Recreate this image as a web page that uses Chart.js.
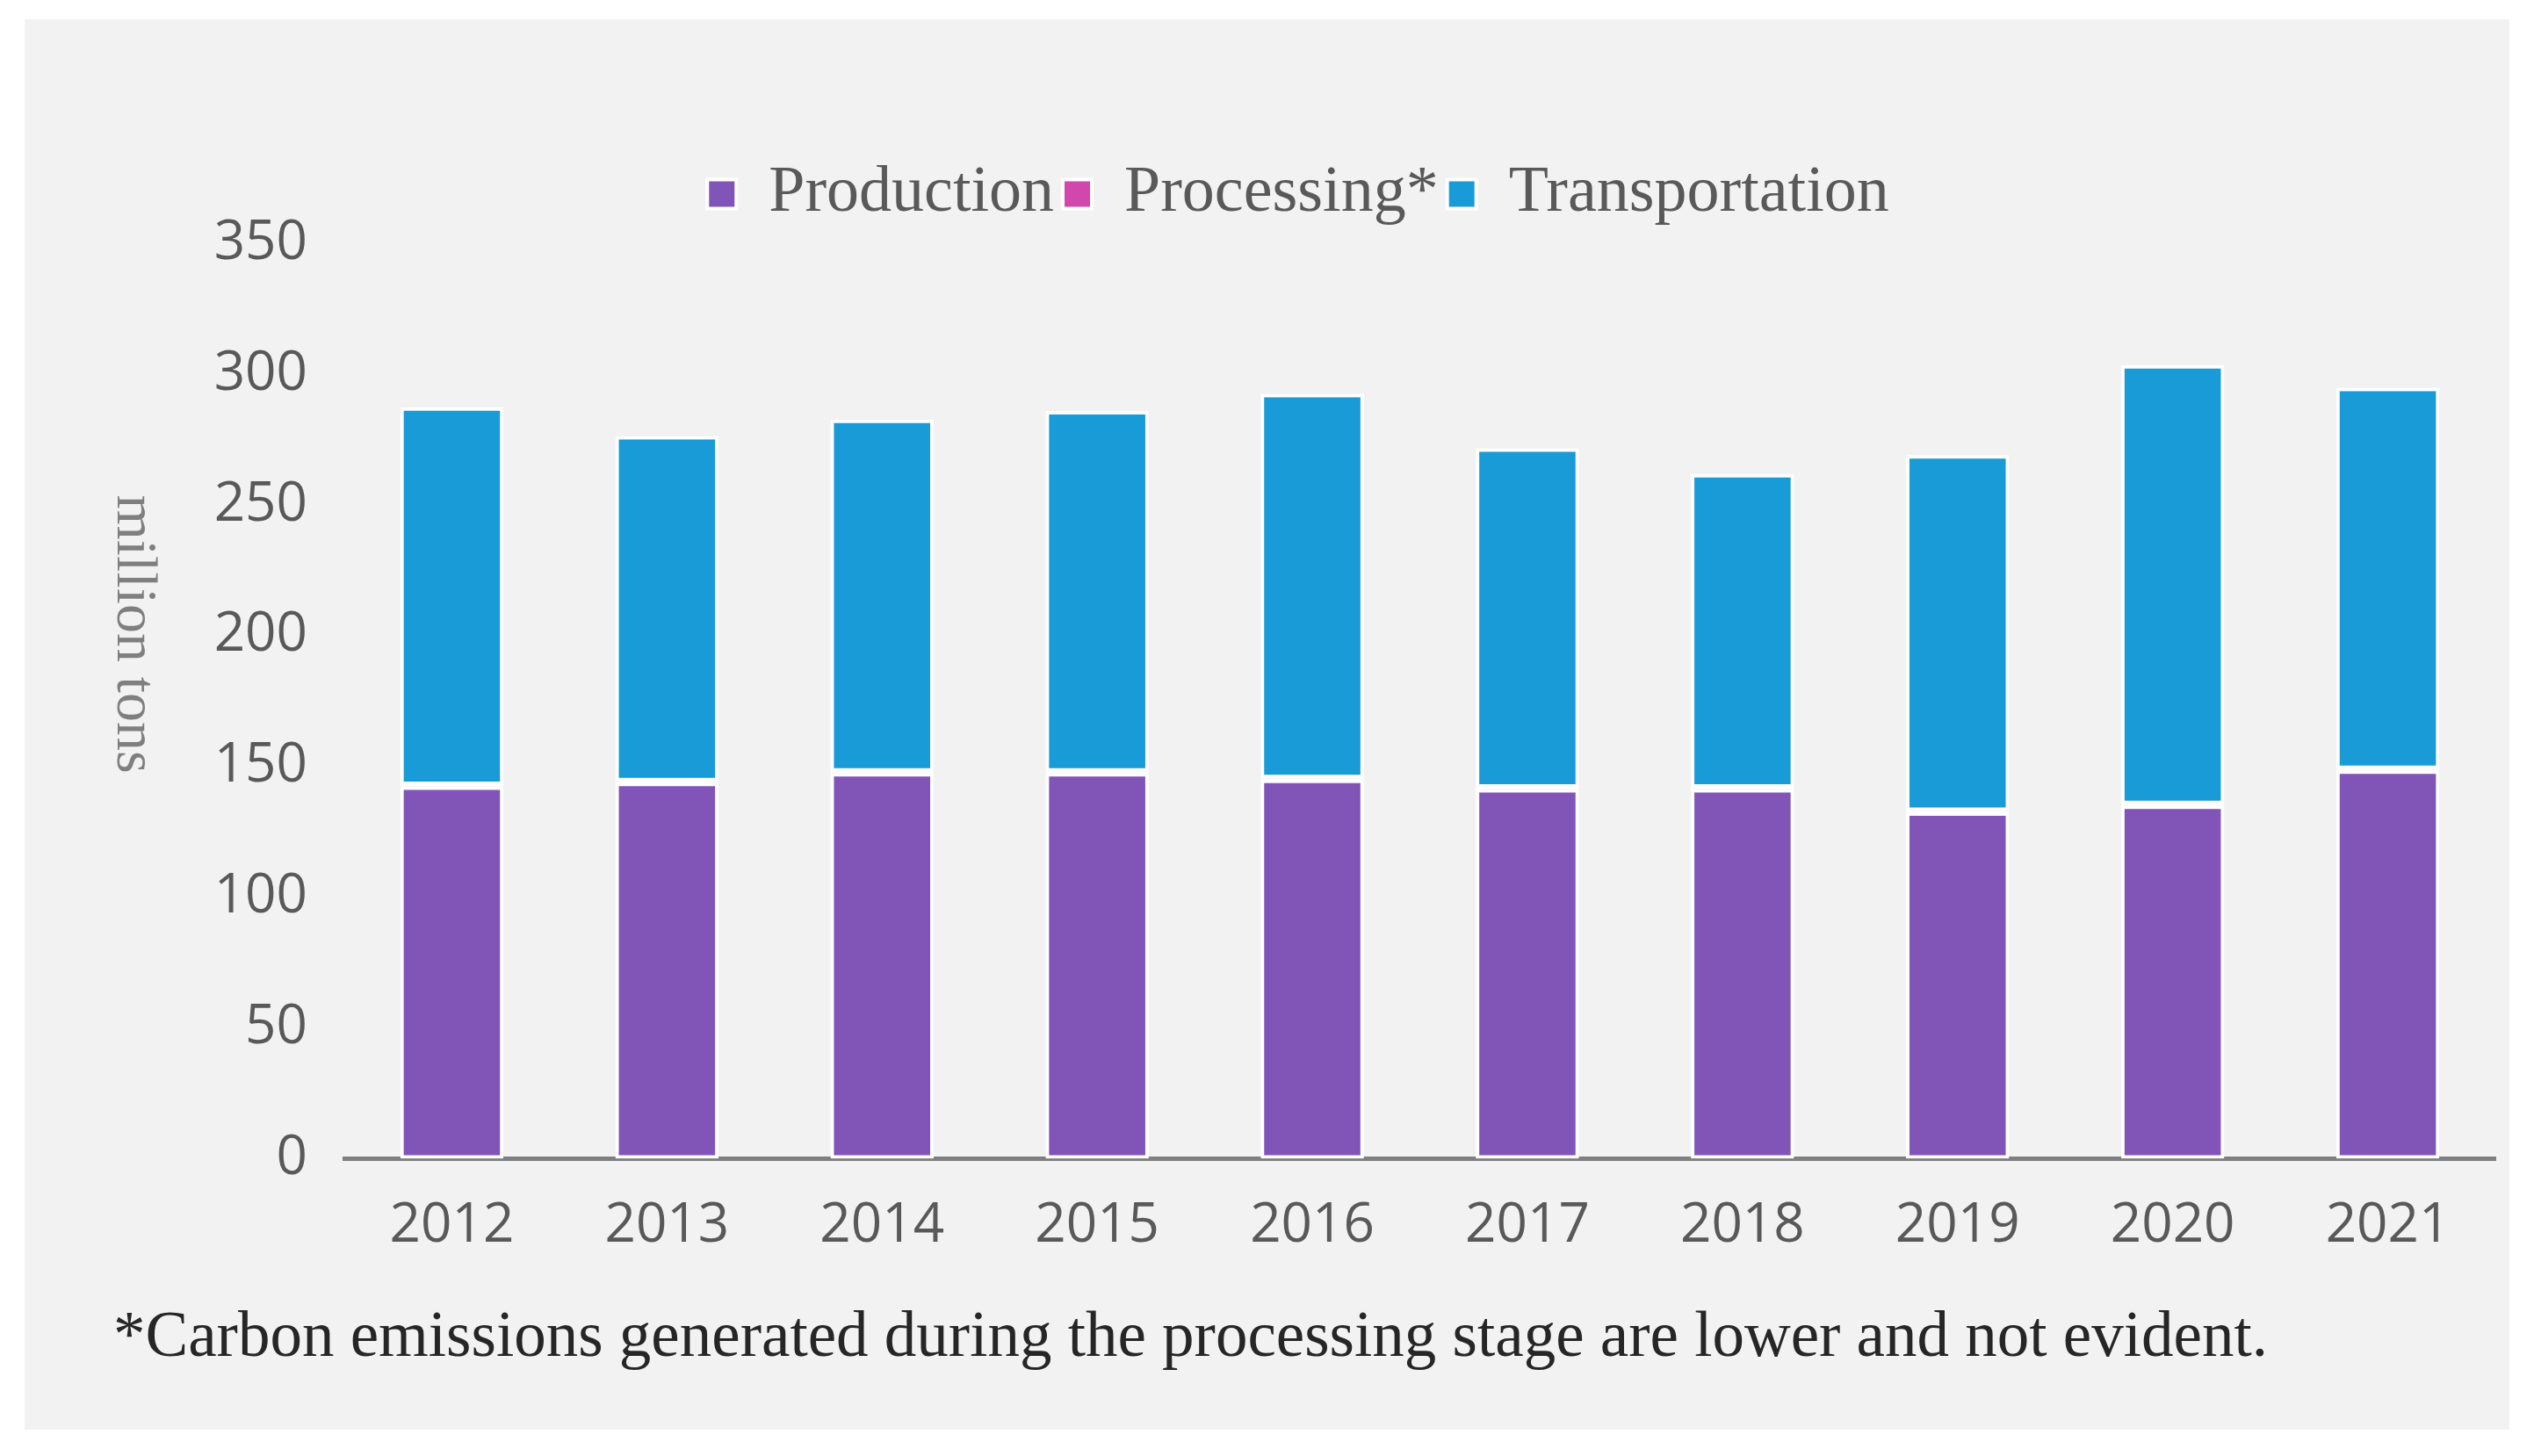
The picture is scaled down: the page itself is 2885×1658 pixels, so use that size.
<!DOCTYPE html>
<html>
<head>
<meta charset="utf-8">
<script src="https://cdn.jsdelivr.net/npm/chart.js@4.4.1/dist/chart.umd.min.js"></script>
<style>
  html, body { margin: 0; padding: 0; background: #fff; }
  #panel { position: absolute; left: 28px; top: 22px; width: 2829px; height: 1606px; background: #f2f2f2; }
  #chartBox { position: absolute; left: 0; top: 0; width: 2829px; height: 1606px; }
  #note { position: absolute; left: 101px; top: 1461px; font-family: "Liberation Serif", serif; font-size: 73px; line-height: 73px; color: #262626; white-space: nowrap; }
</style>
</head>
<body>
<div id="panel">
  <div id="chartBox"><canvas id="emissionsChart"></canvas></div>
  <div id="note">*Carbon emissions generated during the processing stage are lower and not evident.</div>
</div>
<script>
// values (million tons)
const years = ['2012', '2013', '2014', '2015', '2016', '2017', '2018', '2019', '2020', '2021'];
const production = [142.4, 143.8, 147.5, 147.5, 145.0, 141.4, 141.4, 132.5, 135.1, 148.5];
const processing = [0.5, 0.5, 0.5, 0.5, 0.5, 0.5, 0.5, 0.5, 0.5, 0.5];
const transportation = [144.4, 132.0, 134.6, 137.9, 146.9, 129.7, 119.9, 136.0, 167.8, 145.8];
const yTicks = [0, 50, 100, 150, 200, 250, 300, 350];

// y axis title reads top-to-bottom, so draw it ourselves
const yTitlePlugin = {
  id: 'yTitle',
  afterDraw(chart) {
    const ctx = chart.ctx;
    ctx.save();
    ctx.translate(123, 700);
    ctx.rotate(Math.PI / 2);
    ctx.font = '66px "Liberation Serif"';
    ctx.fillStyle = '#7f7f7f';
    ctx.textAlign = 'center';
    ctx.textBaseline = 'middle';
    ctx.fillText('million tons', 0, 0);
    ctx.restore();
  }
};

// a bit more room under the legend
const legendGap = {
  id: 'legendGap',
  beforeInit(chart) {
    const fit = chart.legend.fit;
    chart.legend.fit = function() {
      fit.bind(chart.legend)();
      this.height += 9;
    };
  }
};

function makeSet(label, data, color) {
  return {
    label: label,
    data: data,
    backgroundColor: color,
    borderColor: '#ffffff',
    borderWidth: 4,
    borderSkipped: false,
    barPercentage: 0.48,
    categoryPercentage: 1
  };
}

const tickFont = { family: '"Open Sans"', size: 62 };

new Chart(document.getElementById('emissionsChart'), {
  type: 'bar',
  data: {
    labels: years,
    datasets: [
      makeSet('Production', production, '#8155b8'),
      makeSet('Processing*', processing, '#d147ab'),
      makeSet('Transportation', transportation, '#189bd7')
    ]
  },
  options: {
    responsive: true,
    maintainAspectRatio: false,
    animation: false,
    layout: { padding: { left: 87, right: 16, top: 152, bottom: 154 } },
    plugins: {
      legend: {
        position: 'top',
        labels: {
          boxWidth: 33,
          boxHeight: 33,
          padding: 10,
          color: '#595959',
          font: { family: '"Liberation Serif"', size: 74 }
        }
      },
      tooltip: { enabled: false }
    },
    scales: {
      x: {
        stacked: true,
        grid: { display: false, drawTicks: false },
        border: { display: true, color: '#7f7f7f', width: 5 },
        ticks: { color: '#595959', padding: 40, font: tickFont }
      },
      y: {
        stacked: true,
        min: yTicks[0],
        max: yTicks[yTicks.length - 1],
        grid: { display: false, drawTicks: false },
        border: { display: false },
        ticks: { stepSize: 50, color: '#595959', padding: 42, font: tickFont },
        afterFit(scale) { scale.width = 277; }
      }
    }
  },
  plugins: [yTitlePlugin, legendGap]
});
</script>
</body>
</html>
